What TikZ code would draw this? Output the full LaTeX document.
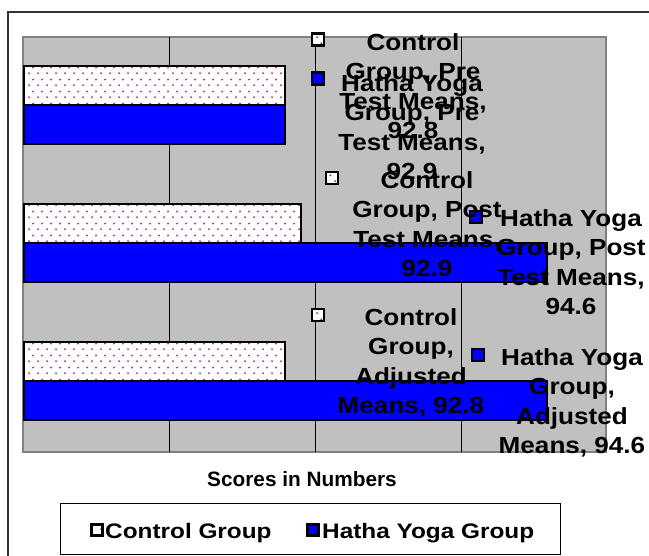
\documentclass[tikz,border=0pt]{standalone}
\usepackage{fontspec}
\setmainfont{Liberation Sans}
\newfontfamily\lblfont[FakeStretch=1.12]{Liberation Sans}
\newfontfamily\legfont[FakeStretch=1.16]{Liberation Sans}
\usetikzlibrary{patterns}
\usepackage{xcolor}
\definecolor{plotgray}{RGB}{192,192,192}
\definecolor{plotedge}{RGB}{128,128,128}
\definecolor{dotpink}{RGB}{170,60,125}
\definecolor{yogablue}{RGB}{0,0,255}
\pgfdeclarepatternformonly{ctrldots}{\pgfpointorigin}{\pgfpoint{9pt}{12pt}}{\pgfpoint{9pt}{12pt}}{%
  \pgfpathcircle{\pgfpoint{2.25pt}{3pt}}{1.2pt}%
  \pgfpathcircle{\pgfpoint{6.75pt}{9pt}}{1.2pt}%
  \pgfusepath{fill}}

\begin{document}
\begin{tikzpicture}[x=1pt, y=-1pt,
  ctrlbar/.style={draw=black, line width=2.5pt, preaction={fill=white}, pattern=ctrldots, pattern color=dotpink},
  yogabar/.style={draw=black, line width=2.5pt, fill=yogablue},
  ctrlkey/.style={ctrlbar, minimum size=12pt, inner sep=0pt},
  yogakey/.style={yogabar, minimum size=12pt, inner sep=0pt},
  datalabel/.style={font=\lblfont\bfseries\fontsize{23.3}{29.5}\selectfont, align=center, anchor=north, inner sep=0pt},
  legtext/.style={font=\legfont\bfseries\fontsize{21}{25}\selectfont, anchor=base west, inner sep=0pt}]
  \useasboundingbox[fill=white] (0,0) rectangle (649,556);
  % outer frame
  \draw[line width=1.2pt, black!80] (8,556) -- (8,12) -- (649,12);
  % plot area and grid
  \draw[fill=plotgray, draw=plotedge, line width=2pt] (23,37) rectangle (606,452);
  \draw[line width=1pt] (169,37) -- (169,452);
  \draw[line width=1pt] (315,37) -- (315,452);
  \draw[line width=1pt] (461,37) -- (461,452);
  % Pre Test Means
  \draw[ctrlbar] (24,66) rectangle (285,105);
  \draw[yogabar] (24,105) rectangle (285,144);
  % Post Test Means
  \draw[ctrlbar] (24,204) rectangle (301,243);
  \draw[yogabar] (24,243) rectangle (547,282);
  % Adjusted Means
  \draw[ctrlbar] (24,342) rectangle (285,381);
  \draw[yogabar] (24,381) rectangle (547,420);
  % label keys
  \node[ctrlkey] (cpremk) at (318,39.5) {};
  \node[yogakey] (hpremk) at (318,78.5) {};
  \node[ctrlkey] (cpostmk) at (332,178) {};
  \node[yogakey] (hpostmk) at (476,217) {};
  \node[ctrlkey] (cadjmk) at (318,315) {};
  \node[yogakey] (hadjmk) at (478,355) {};
  % data labels
  \node[datalabel] (cpre) at (413,33) {Control\\Group, Pre\\Test Means,\\92.8};
  \node[datalabel] (hpre) at (412,74) {Hatha Yoga\\Group, Pre\\Test Means,\\92.9};
  \node[datalabel] (cpost) at (427,171) {Control\\Group, Post\\Test Means,\\92.9};
  \node[datalabel] (hpost) at (571,209) {Hatha Yoga\\Group, Post\\Test Means,\\94.6};
  \node[datalabel] (cadj) at (411,308) {Control\\Group,\\Adjusted\\Means, 92.8};
  \node[datalabel] (hadj) at (572,348) {Hatha Yoga\\Group,\\Adjusted\\Means, 94.6};
  % axis title
  \node[font=\bfseries\fontsize{20.8}{24}\selectfont, anchor=base, inner sep=0pt] (xtitle) at (302,487) {Scores in Numbers};
  % legend
  \node[draw, line width=1pt, minimum width=500pt, minimum height=50pt, inner sep=0pt] (legbox) at (310,529) {};
  \node[ctrlkey, minimum size=11pt] (ctrlkey) at (97,530) {};
  \node[legtext] (ctrltext) at (105,538) {Control Group};
  \node[yogakey, minimum size=11pt] (yogakey) at (313,530) {};
  \node[legtext] (yogatext) at (322,538) {Hatha Yoga Group};
\end{tikzpicture}
\end{document}
